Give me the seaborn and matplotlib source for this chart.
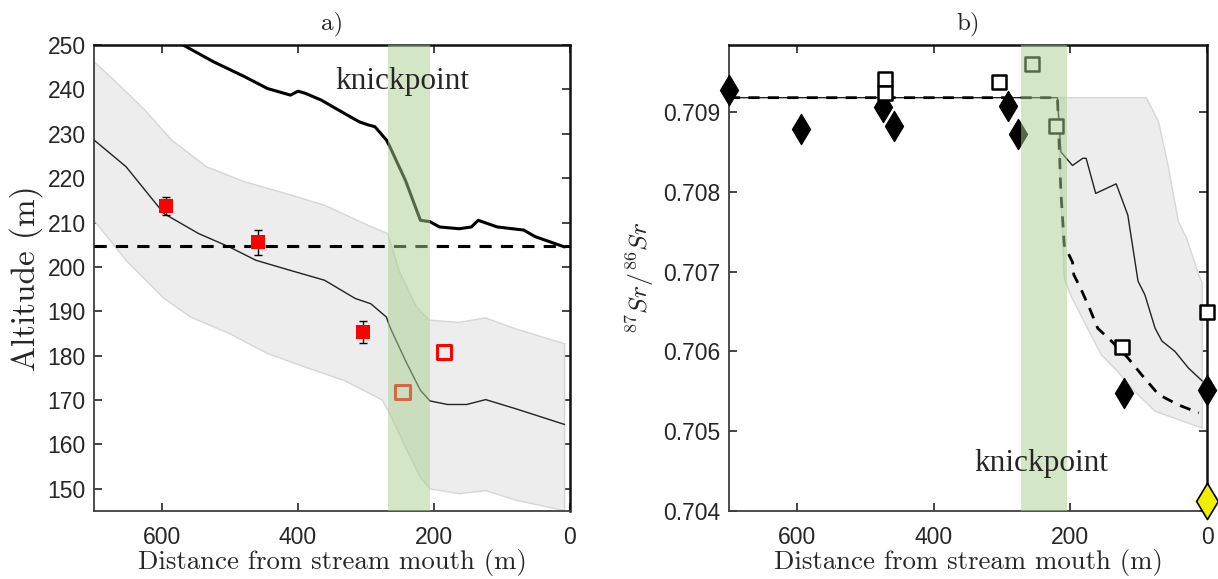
import numpy as np
import matplotlib
matplotlib.use("Agg")
import matplotlib.pyplot as plt
import seaborn as sns

# ---------------- Panel a data ----------------
profile_x = [585, 569, 524, 479, 445, 411, 400, 389, 366, 332, 310, 297, 287, 270, 265, 242, 220, 206, 192, 163, 145, 135, 107, 68, 51, 8]
profile_y = [251.5, 250, 246.2, 242.9, 240.2, 238.7, 239.6, 239.1, 237.6, 234.6, 232.7, 232.0, 231.6, 228.6, 227.1, 219.5, 210.5, 210.2, 209, 208.6, 209.0, 210.5, 209, 208.3, 206.8, 204.5]

mean_a_x = [700, 653, 597, 546, 501, 462, 411, 361, 316, 293, 270, 265, 242, 220, 206, 180, 152, 124, 79, 8]
mean_a_y = [228.6, 222.6, 212, 207.5, 204.5, 201.5, 199.2, 197, 192.9, 191.7, 188.7, 186.5, 178.9, 172.2, 169.8, 169, 169, 170.1, 168, 164.5]

upper_a_x = [700, 670, 625, 586, 535, 479, 417, 361, 299, 268, 251, 226, 207, 163, 124, 79, 8]
upper_a_y = [246.2, 242, 235.3, 228.6, 222.6, 219.2, 216.5, 213.9, 209.5, 207.5, 199, 191, 188, 187.5, 188.5, 186, 182.7]
lower_a_x = [700, 653, 597, 558, 501, 445, 389, 332, 276, 265, 242, 220, 206, 163, 124, 79, 8]
lower_a_y = [210.5, 201.5, 192.9, 188.7, 185, 180.5, 177.4, 174.4, 170, 166.9, 159.4, 152.6, 150, 148.9, 149.6, 147.4, 145.1]

sample_x = [594, 459, 305]
sample_y = [213.7, 205.5, 185.3]
sample_err = [2.0, 2.9, 2.5]
open_a_x = [185, 246]
open_a_y = [180.8, 171.8]
level_a = 204.7
knick_a = (206, 268)

# ---------------- Panel b data ----------------
diam_x = [700, 594, 474, 458, 291, 277, 122, 0]
diam_y = [0.70928, 0.70879, 0.70906, 0.70883, 0.70908, 0.70873, 0.70548, 0.70552]
sq_x = [471, 471, 305, 257, 221, 124, 0]
sq_y = [0.70942, 0.70924, 0.70938, 0.70960, 0.70883, 0.70605, 0.70650]
yellow_x = [0]
yellow_y = [0.70413]

thin_b_x = [700, 219, 214, 197, 182, 177, 163, 133, 116, 101, 91, 76, 66, 47, 27, 7]
thin_b_y = [0.70918, 0.70918, 0.70850, 0.70833, 0.70842, 0.70842, 0.70798, 0.70810, 0.70771, 0.70688, 0.70671, 0.70629, 0.70613, 0.70600, 0.70579, 0.70563]
dash_b_x = [700, 219, 214, 209, 197, 195, 185, 172, 160, 140, 116, 96, 71, 42, 12]
dash_b_y = [0.70918, 0.70918, 0.70800, 0.70733, 0.70712, 0.70696, 0.70679, 0.70654, 0.70629, 0.70613, 0.70592, 0.70571, 0.70546, 0.70533, 0.70523]
upper_b_x = [219, 89, 71, 57, 42, 30, 12, 7]
upper_b_y = [0.70918, 0.70918, 0.70888, 0.70833, 0.70763, 0.70742, 0.70696, 0.70686]
lower_b_x = [219, 214, 209, 200, 175, 155, 131, 106, 76, 37, 7]
lower_b_y = [0.70918, 0.70800, 0.70692, 0.70671, 0.70629, 0.70596, 0.70575, 0.70550, 0.70525, 0.70513, 0.70504]
knick_b = (205, 273)

xticks = [600, 400, 200, 0]
yticks_a = [150, 160, 170, 180, 190, 200, 210, 220, 230, 240, 250]
yticks_b = [0.704, 0.705, 0.706, 0.707, 0.708, 0.709]

# ---------------- Style ----------------
sns.set_theme(style="white")
plt.rcParams['font.family'] = ['Liberation Sans', 'DejaVu Sans']
plt.rcParams['mathtext.fontset'] = 'cm'
LABEL_FONT = ['cmr10', 'Liberation Serif', 'DejaVu Serif']
TIMES = ['Liberation Serif', 'DejaVu Serif']
GREEN = '#a9d18e'
GREY_FILL = '#ededed'
GREY_EDGE = '#d6d6d6'

fig = plt.figure(figsize=(12.18, 5.79), dpi=100)
ax_a = fig.add_axes([94/1218, 1-511/579, (570-94)/1218, 466/579])
ax_b = fig.add_axes([729/1218, 1-511/579, (1207-729)/1218, 466/579])


def style_axes(ax):
    ax.tick_params(axis='both', direction='in', length=6, width=1.2,
                   top=True, right=True, bottom=True, left=True,
                   labelsize=16.5, labelcolor='#262626', colors='#262626')
    ax.tick_params(axis='x', pad=11)
    ax.tick_params(axis='y', pad=6)
    for side in ['left', 'bottom']:
        ax.spines[side].set_color('#404040')
        ax.spines[side].set_linewidth(1.3)
    for side in ['top', 'right']:
        ax.spines[side].set_color('#111111')
        ax.spines[side].set_linewidth(1.8)
    ax.grid(False)


# ---------------- Panel a ----------------
ax = ax_a
ax.fill(np.r_[upper_a_x, lower_a_x[::-1]], np.r_[upper_a_y, lower_a_y[::-1]],
        facecolor=GREY_FILL, edgecolor=GREY_EDGE, lw=1.0, zorder=1)
sns.lineplot(x=mean_a_x, y=mean_a_y, ax=ax, color='#222222', lw=1.0, sort=False,
             estimator=None, zorder=3)
sns.lineplot(x=profile_x, y=profile_y, ax=ax, color='black', lw=2.2, sort=False,
             estimator=None, zorder=3)
ax.axhline(level_a, color='black', lw=2.2, ls=(0, (4, 3)), zorder=3)
ax.errorbar(sample_x, sample_y, yerr=sample_err, fmt='none', ecolor='black',
            elinewidth=1.0, capsize=3, capthick=1.0, zorder=4)
sns.scatterplot(x=sample_x, y=sample_y, ax=ax, marker='s', s=110, color='#ff0000',
                edgecolor='#ff0000', linewidth=0, zorder=5)
sns.scatterplot(x=open_a_x, y=open_a_y, ax=ax, marker='s', s=110, facecolor='none',
                edgecolor='#ff0000', linewidth=2.2, zorder=5)
ax.axvspan(*knick_a, color=GREEN, alpha=0.5, lw=0, zorder=6)
ax.text(247, 241.8, 'knickpoint', family=TIMES, fontsize=22.5,
        ha='center', va='center', zorder=7)
ax.set_xlim(700, 0)
ax.set_ylim(145, 250)
ax.set_xticks(xticks)
ax.set_yticks(yticks_a)
ax.set_xlabel('Distance from stream mouth (m)', family=LABEL_FONT, fontsize=19.3, labelpad=0)
ax.set_ylabel('Altitude (m)', family=LABEL_FONT, fontsize=24, labelpad=3)
ax.set_title('a)', family=LABEL_FONT, fontsize=18, pad=11)
style_axes(ax)

# ---------------- Panel b ----------------
ax = ax_b
ax.fill(np.r_[upper_b_x, lower_b_x[::-1]], np.r_[upper_b_y, lower_b_y[::-1]],
        facecolor=GREY_FILL, edgecolor=GREY_EDGE, lw=1.0, zorder=1)
sns.lineplot(x=thin_b_x, y=thin_b_y, ax=ax, color='#222222', lw=1.0, sort=False,
             estimator=None, zorder=3)
sns.lineplot(x=dash_b_x, y=dash_b_y, ax=ax, color='black', lw=2.0, sort=False,
             estimator=None, zorder=3, linestyle=(0, (4, 3)))
sns.scatterplot(x=diam_x, y=diam_y, ax=ax, marker='d', s=240, color='black',
                edgecolor='black', linewidth=0.8, zorder=5, clip_on=False)
sns.scatterplot(x=sq_x, y=sq_y, ax=ax, marker='s', s=110, facecolor='white',
                edgecolor='black', linewidth=1.8, zorder=5, clip_on=False)
sns.scatterplot(x=yellow_x, y=yellow_y, ax=ax, marker='d', s=340, color='#f2ee00',
                edgecolor='black', linewidth=1.2, zorder=8, clip_on=False)
ax.axvspan(*knick_b, color=GREEN, alpha=0.5, lw=0, zorder=6)
ax.text(243, 0.704594, 'knickpoint', family=TIMES, fontsize=22.5,
        ha='center', va='center', zorder=7)
ax.set_xlim(700, 0)
ax.set_ylim(0.704, 0.70984)
ax.set_xticks(xticks)
ax.set_yticks(yticks_b)
ax.set_yticklabels([f'{v:.3f}' for v in yticks_b])
ax.set_xlabel('Distance from stream mouth (m)', family=LABEL_FONT, fontsize=19.3, labelpad=0)
ax.set_ylabel(r'$^{87}Sr/^{86}Sr$', fontsize=18.5, labelpad=5)
ax.set_title('b)', family=LABEL_FONT, fontsize=18, pad=11)
style_axes(ax)
if ax.get_legend():
    ax.get_legend().remove()

fig.savefig('out.png', dpi=100)
